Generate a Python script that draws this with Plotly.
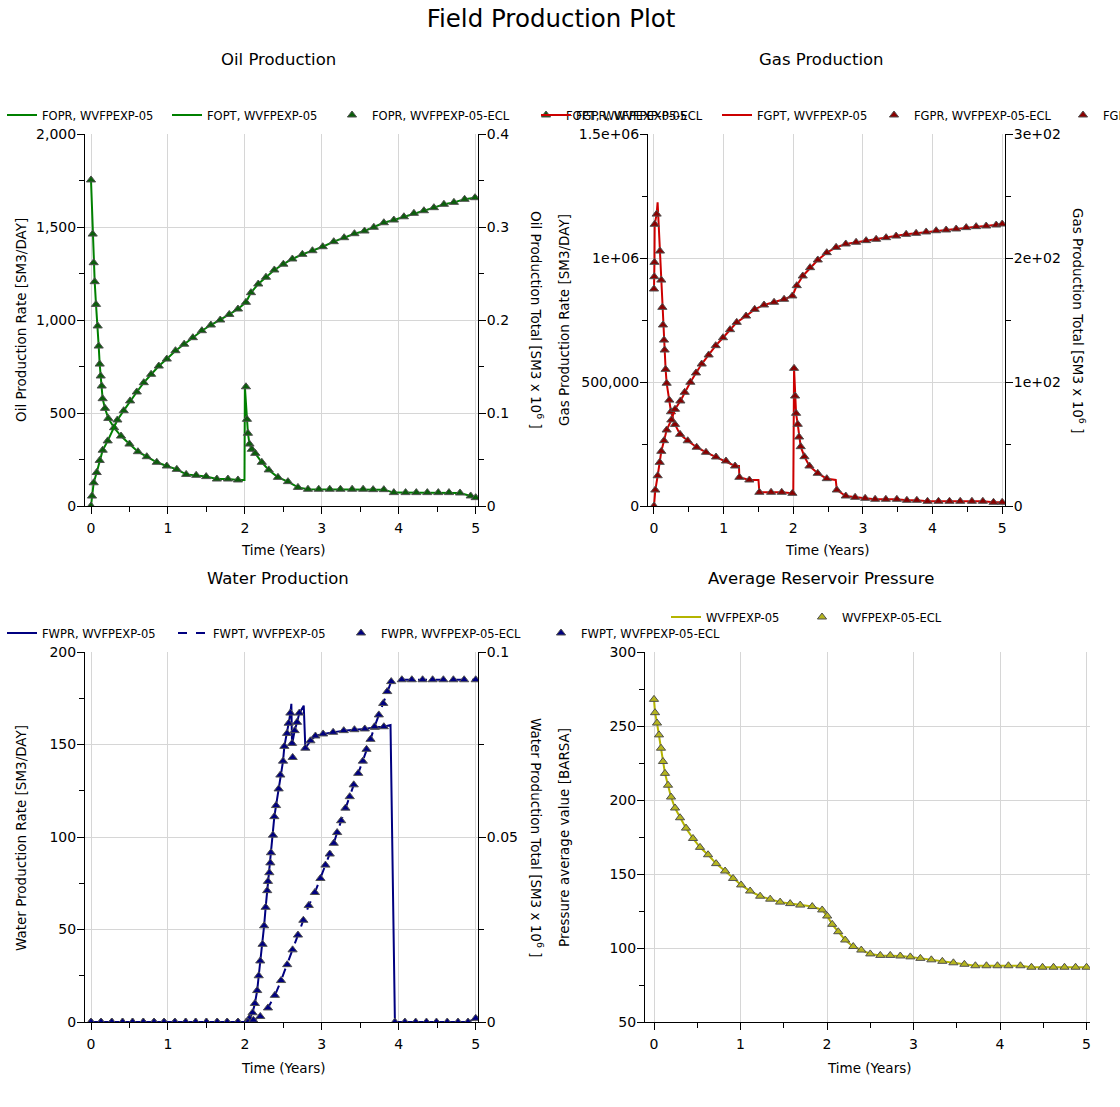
import plotly.graph_objects as go

# ---------------- DATA ----------------
# Oil
oil_rate_t = [0, 0.022, 0.035, 0.048, 0.065, 0.087, 0.100, 0.113, 0.126, 0.139, 0.151, 0.182, 0.225, 0.30, 0.39,
              0.50, 0.61, 0.725, 0.855, 0.985, 1.115, 1.237, 1.367, 1.497, 1.636, 1.78, 1.91, 2.014, 2.027, 2.04,
              2.06, 2.09, 2.135, 2.22, 2.31, 2.43, 2.56, 2.69, 2.82, 2.96, 3.103, 3.242, 3.394, 3.537, 3.667, 3.806,
              3.936, 4.089, 4.228, 4.371, 4.514, 4.653, 4.796, 4.935, 5.0]
oil_rate = [1753, 1462, 1308, 1206, 1084, 968, 860, 763, 699, 645, 577, 525, 471, 421, 376, 333, 292, 265, 235, 215,
            197, 170, 165, 158, 145, 145, 140, 641, 466, 391, 333, 305, 283, 235, 194, 154, 131, 100, 90, 90,
            90, 90, 90, 90, 88, 88, 72, 72, 72, 72, 72, 72, 70, 54, 45]
oil_line_t = [0, 0.022, 0.035, 0.048, 0.065, 0.087, 0.100, 0.113, 0.126, 0.139, 0.151, 0.182, 0.225, 0.30, 0.39,
              0.50, 0.61, 0.725, 0.855, 0.985, 1.115, 1.237, 1.367, 1.497, 1.636, 1.78, 1.91, 1.995, 2.0, 2.027,
              2.04, 2.06, 2.09, 2.135, 2.22, 2.31, 2.43, 2.56, 2.69, 2.82, 2.96, 3.103, 3.242, 3.394, 3.537, 3.667,
              3.806, 3.936, 4.089, 4.228, 4.371, 4.514, 4.653, 4.796, 4.935, 5.0]
oil_line = [1753, 1462, 1308, 1206, 1084, 968, 860, 763, 699, 645, 577, 525, 471, 421, 376, 333, 292, 265, 235, 215,
            197, 170, 165, 158, 145, 145, 140, 140, 641, 466, 391, 333, 305, 283, 235, 194, 154, 131, 100, 90, 90,
            90, 90, 90, 90, 88, 88, 72, 72, 72, 72, 72, 72, 70, 54, 45]
oil_tot_t = [0, 0.013, 0.035, 0.074, 0.113, 0.152, 0.217, 0.343, 0.425, 0.508, 0.595, 0.686, 0.781, 0.881, 0.985,
             1.098, 1.211, 1.324, 1.441, 1.558, 1.680, 1.797, 1.910, 2.014, 2.079, 2.174, 2.274, 2.383, 2.500, 2.617,
             2.747, 2.878, 3.012, 3.155, 3.290, 3.424, 3.555, 3.676, 3.806, 3.936, 4.067, 4.197, 4.327, 4.457,
             4.587, 4.717, 4.856, 4.991]
oil_tot = [0, 0.0107, 0.025, 0.036, 0.049, 0.060, 0.070, 0.0925, 0.1025, 0.113, 0.1226, 0.1326, 0.1416, 0.1505,
           0.158, 0.167, 0.174, 0.181, 0.1885, 0.1946, 0.200, 0.206, 0.2118, 0.219, 0.2294, 0.2387, 0.246, 0.2538,
           0.260, 0.2656, 0.2706, 0.2745, 0.2788, 0.2842, 0.2885, 0.2928, 0.2957, 0.2997, 0.3046, 0.3075, 0.311,
           0.3147, 0.3175, 0.3208, 0.3244, 0.3265, 0.3298, 0.3315]

# Gas
gas_rate_t = [0, 0.004, 0.007, 0.01, 0.038, 0.086, 0.105, 0.12, 0.129, 0.144, 0.153, 0.167, 0.182, 0.22, 0.244,
              0.302, 0.374, 0.484, 0.613, 0.747, 0.891, 1.034, 1.164, 1.226, 1.369, 1.513, 1.681, 1.834, 1.987,
              2.011, 2.026, 2.04, 2.064, 2.083, 2.107, 2.16, 2.232, 2.351, 2.481, 2.625, 2.754, 2.888, 3.032, 3.175,
              3.329, 3.487, 3.631, 3.774, 3.927, 4.085, 4.243, 4.397, 4.565, 4.722, 4.875, 5.0]
gas_rate = [875000, 924600, 982700, 1136000, 1177000, 1028000, 911000, 801000, 730000, 669000, 629000, 551000,
            495000, 427000, 380000, 329000, 289000, 263000, 237000, 216500, 197600, 181500, 161300, 115700, 104800,
            55200, 55200, 55200, 51200, 555000, 443500, 373700, 329400, 278200, 239300, 198800, 161300, 131800,
            110200, 64500, 40300, 35000, 31000, 27000, 27000, 27000, 23000, 23000, 19000, 19000, 19000, 19000,
            19000, 19000, 15000, 15000]
gas_line_t = [0, 0.004, 0.007, 0.01, 0.038, 0.052, 0.086, 0.105, 0.12, 0.129, 0.144, 0.153, 0.167, 0.182, 0.22,
              0.244, 0.302, 0.374, 0.484, 0.613, 0.747, 0.891, 1.034, 1.164, 1.22, 1.226, 1.369, 1.50, 1.513,
              1.681, 1.834, 1.987, 2.0, 2.011, 2.026, 2.04, 2.064, 2.083, 2.107, 2.16, 2.232, 2.351, 2.481, 2.61,
              2.625, 2.754, 2.888, 3.032, 3.175, 3.329, 3.487, 3.631, 3.774, 3.927, 4.085, 4.243, 4.397, 4.565,
              4.722, 4.875, 5.0]
gas_line = [875000, 924600, 982700, 1136000, 1177000, 1224600, 1028000, 911000, 801000, 730000, 669000, 629000,
            551000, 495000, 427000, 380000, 329000, 289000, 263000, 237000, 216500, 197600, 181500, 161300, 161300,
            115700, 104800, 104800, 55200, 55200, 55200, 51200, 51200, 555000, 443500, 373700, 329400, 278200,
            239300, 198800, 161300, 131800, 110200, 105000, 64500, 40300, 35000, 31000, 27000, 27000, 27000, 23000,
            23000, 19000, 19000, 19000, 19000, 19000, 19000, 15000, 15000]
gas_tot_t = [0, 0.019, 0.053, 0.082, 0.105, 0.144, 0.182, 0.249, 0.302, 0.379, 0.441, 0.522, 0.603, 0.685, 0.785,
             0.886, 0.991, 1.092, 1.188, 1.322, 1.446, 1.580, 1.724, 1.868, 1.987, 2.050, 2.136, 2.241, 2.352, 2.481,
             2.615, 2.754, 2.902, 3.046, 3.190, 3.333, 3.477, 3.621, 3.764, 3.908, 4.052, 4.195, 4.339, 4.483,
             4.626, 4.770, 4.914, 5.0]
gas_tot = [0, 12.9, 24.4, 35.2, 44.1, 52.7, 61.3, 69.4, 78.0, 84.7, 91.7, 99.8, 107.3, 114.5, 121.8, 129.3, 135.7,
           142.2, 148.1, 153.2, 158.6, 162.1, 164.3, 166.7, 169.4, 177.7, 185.5, 192.2, 198.4, 204.3, 208.6, 211.3,
           212.7, 214.0, 215.1, 216.4, 217.7, 219.1, 219.9, 221.0, 222.0, 222.6, 223.4, 224.5, 225.3, 225.8, 226.6,
           227.4]

# Water
wat_rate_t = [0, 0.13, 0.27, 0.41, 0.54, 0.68, 0.82, 0.95, 1.09, 1.23, 1.36, 1.50, 1.64, 1.77, 1.91, 2.02, 2.06,
              2.10, 2.13, 2.16, 2.18, 2.20, 2.23, 2.25, 2.27, 2.29, 2.30, 2.318, 2.331, 2.339, 2.365, 2.383, 2.405,
              2.439, 2.461, 2.496, 2.513, 2.548, 2.569, 2.591, 2.613, 2.621, 2.647, 2.678, 2.708, 2.786, 2.852,
              2.917, 3.017, 3.147, 3.285, 3.424, 3.559, 3.689, 3.806, 3.95, 4.08, 4.22, 4.36, 4.49, 4.63, 4.77,
              4.90, 5.0]
wat_rate = [0, 0, 0, 0, 0, 0, 0, 0, 0, 0, 0, 0, 0, 0, 0, 0, 2, 5, 10, 17, 25, 33, 42, 52, 62, 71, 76, 80.7, 86,
            91.5, 101, 111, 117, 126, 133.5, 141, 149, 156, 161.5, 167, 150.6, 143, 157.5, 162, 167, 148, 152, 154.6,
            155.7, 156.6, 157.5, 158, 158.4, 159.3, 159.6, 0, 0, 0, 0, 0, 0, 0, 0, 2]
wat_line_t = [0, 2.02, 2.06, 2.10, 2.13, 2.16, 2.18, 2.20, 2.23, 2.25, 2.27, 2.29, 2.30, 2.318, 2.331, 2.339, 2.365,
              2.383, 2.405, 2.439, 2.461, 2.496, 2.513, 2.548, 2.569, 2.591, 2.604, 2.613, 2.647, 2.678, 2.708,
              2.765, 2.786, 2.852, 2.917, 3.017, 3.147, 3.285, 3.424, 3.559, 3.689, 3.806, 3.893, 3.95, 4.9, 5.0]
wat_line = [0, 0, 2, 5, 10, 17, 25, 33, 42, 52, 62, 71, 76, 80.7, 86, 91.5, 101, 111, 117, 126, 133.5, 141, 149,
            156, 161.5, 167, 172, 150, 157.5, 162, 167, 171, 148, 152, 154.6, 155.7, 156.6, 157.5, 158, 158.4, 159.3,
            159.6, 160.5, 0, 0, 2]
wat_tot_t = [0, 0.13, 0.27, 0.41, 0.54, 0.68, 0.82, 0.95, 1.09, 1.23, 1.36, 1.50, 1.64, 1.77, 1.91, 2.04, 2.11,
             2.20, 2.30, 2.39, 2.47, 2.55, 2.62, 2.69, 2.76, 2.83, 2.91, 2.982, 3.047, 3.103, 3.155, 3.199, 3.251,
             3.307, 3.363, 3.415, 3.473, 3.533, 3.581, 3.633, 3.685, 3.741, 3.798, 3.850, 3.902, 4.04, 4.17, 4.31,
             4.44, 4.58, 4.71, 4.85, 5.0]
wat_tot = [0, 0, 0, 0, 0, 0, 0, 0, 0, 0, 0, 0, 0, 0, 0, 0, 0.0005, 0.0015, 0.0038, 0.0072, 0.0112, 0.0155, 0.0195,
           0.0235, 0.0275, 0.0315, 0.0350, 0.0388, 0.0424, 0.0454, 0.0483, 0.0512, 0.0544, 0.0578, 0.0609, 0.0641,
           0.0672, 0.0705, 0.0737, 0.0764, 0.0798, 0.083, 0.0861, 0.0893, 0.092, 0.0925, 0.0925, 0.0925, 0.0925,
           0.0925, 0.0925, 0.0925, 0.0925]

# Pressure
pres_t = [0, 0.012, 0.035, 0.058, 0.081, 0.104, 0.127, 0.162, 0.197, 0.243, 0.301, 0.370, 0.451, 0.532, 0.625,
          0.718, 0.822, 0.914, 1.007, 1.111, 1.227, 1.343, 1.458, 1.574, 1.690, 1.829, 1.944, 2.002, 2.06, 2.13,
          2.21, 2.303, 2.396, 2.5, 2.616, 2.731, 2.847, 2.963, 3.079, 3.206, 3.333, 3.461, 3.588, 3.715, 3.843,
          3.97, 4.097, 4.236, 4.363, 4.491, 4.618, 4.745, 4.873, 5.0]
pres = [268, 259, 252, 244, 235, 226, 218, 210, 202, 194.6, 188, 181, 174, 168, 163, 157, 152, 147, 142.6, 138.5,
        135, 133, 131, 130, 129, 128, 125.7, 121.6, 116, 111, 105.4, 101, 98.6, 96, 95, 95, 94.6, 94, 93, 92, 91,
        90, 89, 88, 88, 88, 88, 88, 87, 87, 87, 87, 87, 87]

# Tick labels
oil_rate_ticks = [0, 500, 1000, 1500, 2000]
oil_rate_text = ["0", "500", "1,000", "1,500", "2,000"]
oil_tot_ticks = [0, 0.1, 0.2, 0.3, 0.4]
oil_tot_text = ["0", "0.1", "0.2", "0.3", "0.4"]
gas_rate_ticks = [0, 500000, 1000000, 1500000]
gas_rate_text = ["0", "500,000", "1e+06", "1.5e+06"]
gas_tot_ticks = [0, 100, 200, 300]
gas_tot_text = ["0", "1e+02", "2e+02", "3e+02"]
wat_rate_ticks = [0, 50, 100, 150, 200]
wat_tot_ticks = [0, 0.05, 0.1]
wat_tot_text = ["0", "0.05", "0.1"]
pres_ticks = [50, 100, 150, 200, 250, 300]
time_ticks = [0, 1, 2, 3, 4, 5]

# ---------------- STYLE ----------------
W, H = 1120, 1107
FONT = "DejaVu Sans"
GREEN, DGREEN = "#008000", "#0b5e0b"
RED, DRED = "#cc0000", "#8b0000"
NAVY = "#000080"
OLIVE, DOLIVE = "#b4b400", "#b5b51e"


def px(x):
    return x / W


def py(y):
    return 1 - y / H


def marker(col):
    return dict(symbol="triangle-up", size=8, color=col, line=dict(color="#505050", width=1))


fig = go.Figure()

# each legend entry gets its own legend box so entries can sit where the reference puts them
leg_pos = {}


def add_trace(tr, lid, text_x, y):
    leg_pos[lid] = (text_x, y)
    tr.update(legend=lid)
    fig.add_trace(tr)


# Oil
add_trace(go.Scatter(x=oil_line_t, y=oil_line, mode="lines", line=dict(color=GREEN, width=2),
                     name="FOPR, WVFPEXP-05", xaxis="x", yaxis="y"), "legend", 42, 115)
add_trace(go.Scatter(x=oil_tot_t, y=oil_tot, mode="lines", line=dict(color=GREEN, width=2),
                     name="FOPT, WVFPEXP-05", xaxis="x", yaxis="y2"), "legend2", 207, 115)
add_trace(go.Scatter(x=oil_rate_t, y=oil_rate, mode="markers", marker=marker(DGREEN),
                     name="FOPR, WVFPEXP-05-ECL", xaxis="x", yaxis="y"), "legend3", 372, 115)
add_trace(go.Scatter(x=oil_tot_t, y=oil_tot, mode="markers", marker=marker(DGREEN),
                     name="FOPT, WVFPEXP-05-ECL", xaxis="x", yaxis="y2"), "legend4", 566, 115)
# Gas
add_trace(go.Scatter(x=gas_line_t, y=gas_line, mode="lines", line=dict(color=RED, width=2),
                     name="FGPR, WVFPEXP-05", xaxis="x2", yaxis="y3"), "legend5", 576, 115)
add_trace(go.Scatter(x=gas_tot_t, y=gas_tot, mode="lines", line=dict(color=RED, width=2),
                     name="FGPT, WVFPEXP-05", xaxis="x2", yaxis="y4"), "legend6", 757, 115)
add_trace(go.Scatter(x=gas_rate_t, y=gas_rate, mode="markers", marker=marker(DRED),
                     name="FGPR, WVFPEXP-05-ECL", xaxis="x2", yaxis="y3"), "legend7", 914, 115)
add_trace(go.Scatter(x=gas_tot_t, y=gas_tot, mode="markers", marker=marker(DRED),
                     name="FGPT, WVFPEXP-05-ECL", xaxis="x2", yaxis="y4"), "legend8", 1103, 115)
# Water
add_trace(go.Scatter(x=wat_line_t, y=wat_line, mode="lines", line=dict(color=NAVY, width=2),
                     name="FWPR, WVFPEXP-05", xaxis="x3", yaxis="y5"), "legend9", 42, 633)
add_trace(go.Scatter(x=wat_tot_t, y=wat_tot, mode="lines", line=dict(color=NAVY, width=2, dash="dash"),
                     name="FWPT, WVFPEXP-05", xaxis="x3", yaxis="y6"), "legend10", 213, 633)
add_trace(go.Scatter(x=wat_rate_t, y=wat_rate, mode="markers", marker=marker(NAVY),
                     name="FWPR, WVFPEXP-05-ECL", xaxis="x3", yaxis="y5"), "legend11", 381, 633)
add_trace(go.Scatter(x=wat_tot_t, y=wat_tot, mode="markers", marker=marker(NAVY),
                     name="FWPT, WVFPEXP-05-ECL", xaxis="x3", yaxis="y6"), "legend12", 581, 633)
# Pressure
add_trace(go.Scatter(x=pres_t, y=pres, mode="lines", line=dict(color=OLIVE, width=2),
                     name="WVFPEXP-05", xaxis="x4", yaxis="y7"), "legend13", 706, 617)
add_trace(go.Scatter(x=pres_t, y=pres, mode="markers", marker=marker(DOLIVE),
                     name="WVFPEXP-05-ECL", xaxis="x4", yaxis="y7"), "legend14", 842, 617)

tickfont = dict(family=FONT, size=14, color="black")
base = dict(showline=True, linecolor="black", linewidth=1, ticks="outside", ticklen=7, tickcolor="black",
            showgrid=True, gridcolor="#d6d6d6", gridwidth=1, zeroline=False, tickfont=tickfont)


def xax(x0, x1, rng, anchor):
    d = dict(base)
    d.update(domain=[px(x0), px(x1)], range=rng, anchor=anchor, tickvals=time_ticks, ticklabelstandoff=2,
             minor=dict(ticks="outside", ticklen=5, dtick=0.5, tickcolor="black", showgrid=False))
    return d


def yax(y0, y1, rng, anchor, vals, text=None, side="left", overlay=None, grid=True, minor_dt=None):
    d = dict(base)
    d.update(domain=[py(y1), py(y0)], range=rng, anchor=anchor, tickvals=vals, side=side, showgrid=grid,
             ticklabelstandoff=-2)
    if text:
        d["ticktext"] = text
    if overlay:
        d["overlaying"] = overlay
    if minor_dt:
        d["minor"] = dict(ticks="outside", ticklen=5, dtick=minor_dt, tickcolor="black", showgrid=False)
    return d


TOP = (134, 506)
BOT = (652, 1022)

fig.update_layout(
    width=W, height=H, margin=dict(l=0, r=0, t=0, b=0, autoexpand=False),
    paper_bgcolor="white", plot_bgcolor="white",
    font=dict(family=FONT, color="black"),
    showlegend=True,
    title=dict(text="Field Production Plot", x=px(551), xanchor="center", y=py(18), yanchor="middle",
               font=dict(family=FONT, size=24.5, color="black")),
    xaxis=xax(85, 478, [-0.078, 5.03], "y"),
    yaxis=yax(*TOP, [0, 2000], "x", oil_rate_ticks, oil_rate_text, minor_dt=250),
    yaxis2=yax(*TOP, [0, 0.4], "x", oil_tot_ticks, oil_tot_text, side="right", overlay="y", grid=False,
               minor_dt=0.05),
    xaxis2=xax(648, 1005, [-0.086, 5.04], "y3"),
    yaxis3=yax(*TOP, [0, 1500000], "x2", gas_rate_ticks, gas_rate_text, minor_dt=250000),
    yaxis4=yax(*TOP, [0, 300], "x2", gas_tot_ticks, gas_tot_text, side="right", overlay="y3", grid=False,
               minor_dt=50),
    xaxis3=xax(85, 478, [-0.078, 5.03], "y5"),
    yaxis5=yax(*BOT, [0, 200], "x3", wat_rate_ticks, minor_dt=25),
    yaxis6=yax(*BOT, [0, 0.1], "x3", wat_tot_ticks, wat_tot_text, side="right", overlay="y5", grid=False,
               minor_dt=0.025),
    xaxis4=xax(645, 1090, [-0.104, 5.04], "y7"),
    yaxis7=yax(*BOT, [50, 300], "x4", pres_ticks, minor_dt=25),
)

legfont = dict(family=FONT, size=11.5, color="black")
legends = {}
for lid, (tx, ty) in leg_pos.items():
    legends[lid] = dict(orientation="h", xanchor="left", yanchor="middle", x=px(tx - 40), y=py(ty),
                        font=legfont, bgcolor="rgba(0,0,0,0)", borderwidth=0)
fig.update_layout(**legends)

# Titles (subplot and axis titles)
ann = []


def add(text, x, y, size=14, angle=0):
    ann.append(dict(text=text, x=px(x), y=py(y), xref="paper", yref="paper", showarrow=False,
                    textangle=angle, xanchor="center", yanchor="middle",
                    font=dict(family=FONT, size=size, color="black")))


add("Oil Production", 278, 60, 16.5)
add("Gas Production", 821, 60, 16.5)
add("Water Production", 278, 578, 16.5)
add("Average Reservoir Pressure", 821, 578, 16.5)
add("Time (Years)", 283, 550, 13.5)
add("Time (Years)", 827, 550, 13.5)
add("Time (Years)", 283, 1068, 13.5)
add("Time (Years)", 869, 1068, 13.5)
add("Oil Production Rate [SM3/DAY]", 21, 320, 13.5, -90)
add("Oil Production Total [SM3 x 10<sup>6</sup> ]", 537, 320, 13.5, 90)
add("Gas Production Rate [SM3/DAY]", 564, 320, 13.5, -90)
add("Gas Production Total [SM3 x 10<sup>6</sup> ]", 1079, 320, 13.5, 90)
add("Water Production Rate [SM3/DAY]", 21, 838, 13.5, -90)
add("Water Production Total [SM3 x 10<sup>6</sup> ]", 537, 838, 13.5, 90)
add("Pressure average value [BARSA]", 564, 838, 13.5, -90)
fig.update_layout(annotations=ann)

fig.write_html("out.html", config={"displayModeBar": False},
               post_script="document.body.style.margin='0px';")
